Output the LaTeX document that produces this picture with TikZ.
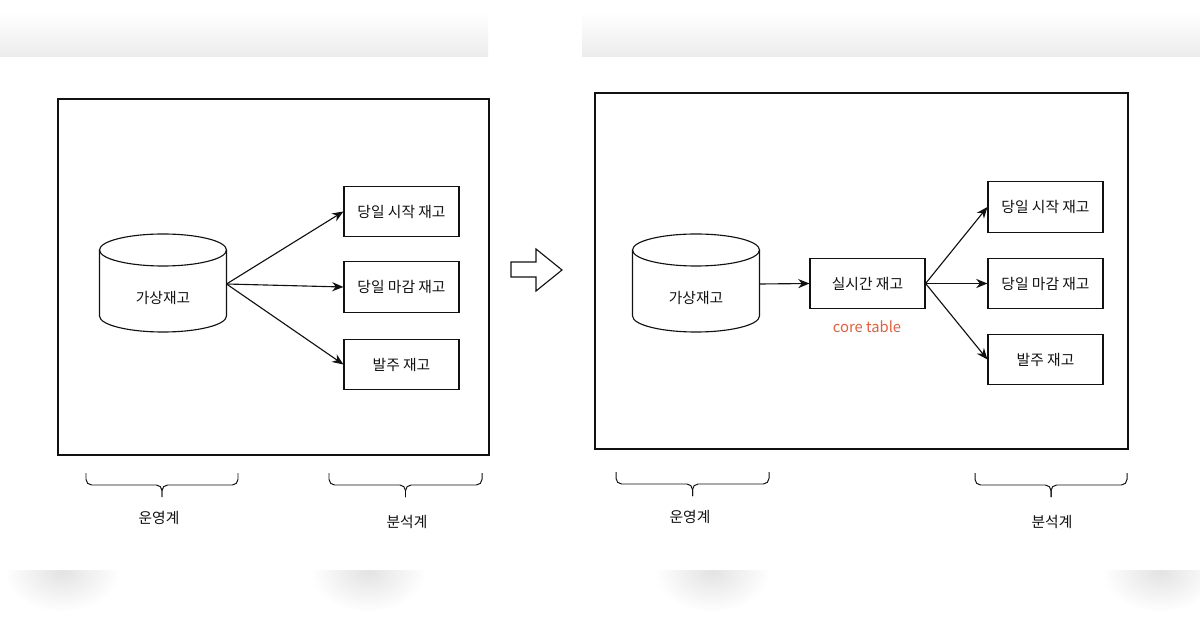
\documentclass[tikz,border=0pt]{standalone}
\usepackage{fontspec}
\setmainfont{Noto Sans CJK KR}
\usetikzlibrary{arrows.meta,positioning}
\definecolor{ink}{HTML}{111111}
\definecolor{coreorange}{HTML}{E4603C}
\definecolor{haze}{HTML}{ECECEC}

\begin{document}
\begin{tikzpicture}[x=0.025cm,y=-0.025cm,>={Stealth[length=8pt,width=6.5pt]},
    line width=.8pt,draw=ink,font=\fontsize{10.5}{12.5}\selectfont]
  \tikzset{
    frame/.style={draw=ink,line width=.9pt},
    stock/.style={draw=ink,minimum width=2.875cm,minimum height=1.27cm,
        inner sep=0pt,text=ink},
    flow/.style={->,draw=ink},
    tag/.style={text=ink},
    curly/.style={draw=ink,line width=.7pt,rounded corners=4pt}
  }
  \fill[white] (0,0) rectangle (1200,628);
  \useasboundingbox (0,0) rectangle (1200,628);

  % soft page shadows
  \shade[top color=white,bottom color=haze] (0,12) rectangle (488,57);
  \shade[top color=white,bottom color=haze] (582,12) rectangle (1200,57);
  \begin{scope}
    \clip (0,570) rectangle (1200,628);
    \foreach \bx in {62,368,712,1160}
      \shade[inner color=black!11,outer color=white] (\bx,572) ellipse[x radius=58,y radius=40];
  \end{scope}

  % before
  \draw[frame] (58,99) rectangle (489,455);
  \node[stock] (l1) at (401.5,211.5) {당일 시작 재고};
  \node[stock] (l2) at (401.5,287) {당일 마감 재고};
  \node[stock] (l3) at (401.5,364.5) {발주 재고};

  % after
  \draw[frame] (595,93) rectangle (1128,449);
  \node[stock] (rt) at (867.5,283.5) {실시간 재고};
  \node[text=coreorange] (core) at (867,327) {core table};
  \node[stock] (r1) at (1045.5,207) {당일 시작 재고};
  \node[stock] (r2) at (1045.5,283.5) {당일 마감 재고};
  \node[stock] (r3) at (1045.5,359.5) {발주 재고};

  % databases
  \foreach \cx/\nm in {163/dbl,696/dbr}{
      \draw (\cx-63.5,250) -- (\cx-63.5,316)
        arc[start angle=180,end angle=0,x radius=63.5,y radius=16] -- (\cx+63.5,250);
      \draw (\cx,250) ellipse[x radius=63.5,y radius=16];
      \node[tag] (\nm) at (\cx,298) {가상재고};
      \coordinate (\nm-out) at (\cx+63.5,284);
    }

  \foreach \t in {l1,l2,l3}
    \draw[flow] (dbl-out)--(\t.west);
  \draw[flow] (dbr-out)--(rt.west);
  \foreach \t in {r1,r2,r3}
    \draw[flow] (rt.east)--(\t.west);

  % hollow arrow
  \draw[line join=miter] (511,262)--(536,262)--(536,249)--(562,270)--(536,291)--(536,277)--(511,277)--cycle;

  % braces
  \foreach \a/\b/\y in {86/238/473,329/482/473,616/769/472,975/1127/473}{
      \draw[curly] (\a,\y)--(\a,\y+12)--({(\a+\b)/2},\y+12)--({(\a+\b)/2},\y+24);
      \draw[curly] (\b,\y)--(\b,\y+12)--({(\a+\b)/2},\y+12)--({(\a+\b)/2},\y+24);
    }
  \node[tag] (opsl) at (159,518) {운영계};
  \node[tag] (anal) at (407,522) {분석계};
  \node[tag] (opsr) at (690,517) {운영계};
  \node[tag] (anar) at (1052,522) {분석계};
\end{tikzpicture}
\end{document}
